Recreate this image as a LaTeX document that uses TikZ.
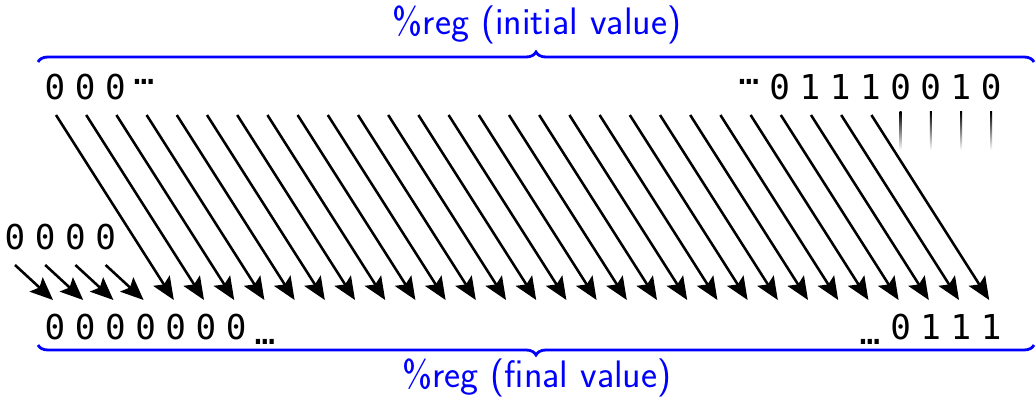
\documentclass[tikz,border=0pt]{standalone}
\usepackage{fontspec}
\setmonofont{DejaVu Sans Mono}
\usetikzlibrary{arrows.meta,positioning,decorations.pathreplacing,calc}
\definecolor{regblue}{RGB}{0,0,255}

\begin{document}
\begin{tikzpicture}[x=0.02cm, y=-0.02cm,
        bit/.style={font=\ttfamily\fontsize{19.5}{20}\selectfont, inner sep=0pt},
        dots/.style={font=\ttfamily\fontsize{19.5}{20}\selectfont, inner sep=0pt},
        label/.style={font=\sffamily\fontsize{21.8}{26}\selectfont, text=regblue, inner sep=0pt},
        arrow/.style={-{Stealth[length=13pt, width=11pt, inset=2.5pt]}, line width=1.45pt},
        brace/.style={decorate, decoration={brace, amplitude=0.2cm}, regblue, line width=1.6pt},
        fadeline/.style={top color=black, bottom color=white, draw=none}
    ]
    \useasboundingbox (0,0) rectangle (1036,402);
    % arrow end points, one per bit
    \foreach \i in {0,...,31} {
        \coordinate (src\i) at ({56+30.2*\i},115);
        \coordinate (dst\i) at ({53+30.2*\i},300);
    }
    % initial value
    \foreach \i/\b in {0/0,1/0,2/0,24/0,25/1,26/1,27/1,28/0,29/0,30/1,31/0}
        \node[bit] (top\i) at ({55+30.2*\i},87) {\b};
    \node[dots] (topdotsL) at (144,82) {…};
    \node[dots] (topdotsR) at (749,82) {…};
    % shifted-in zeros
    \foreach \j in {0,...,3} {
        \node[bit] (pad\j) at ({15+30.2*\j},237) {0};
        \coordinate (padsrc\j) at ({15+30.2*\j},265);
    }
    % final value
    \foreach \i/\b in {0/0,1/0,2/0,3/0,4/0,5/0,6/0,28/0,29/1,30/1,31/1}
        \node[bit] (bot\i) at ({55+30.2*\i},327) {\b};
    \node[dots] (botdotsL) at (265,342) {…};
    \node[dots] (botdotsR) at (870,342) {…};
    % shift arrows
    \foreach \i [evaluate=\i as \k using int(\i+4)] in {0,...,27}
        \draw[arrow] (src\i) -- (dst\k);
    \foreach \j in {0,...,3}
        \draw[arrow] (padsrc\j) -- (dst\j);
    % bits shifted out
    \foreach \i in {28,...,31}
        \shade[fadeline] ($(top\i)+(-1,25)$) rectangle ($(top\i)+(1,63)$);
    % braces
    \draw[brace] (38,62) -- (1034,62);
    \draw[brace] (1034,345) -- (38,345);
    \node[label] (initlbl) at (537,25) {\%reg (initial value)};
    \node[label] (finallbl) at (537,378) {\%reg (final value)};
\end{tikzpicture}
\end{document}
